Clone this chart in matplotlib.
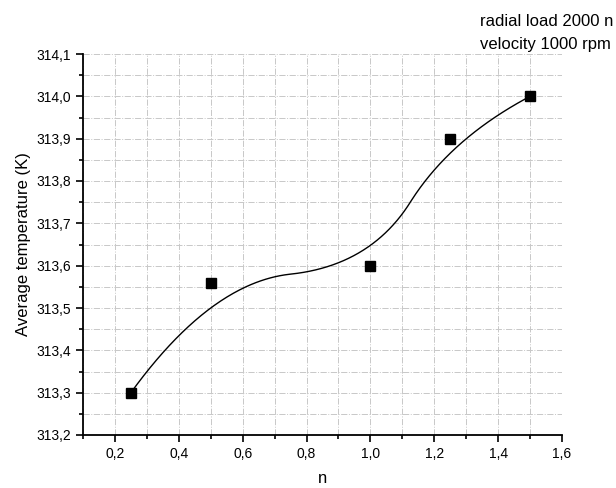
import numpy as np
import matplotlib.pyplot as plt
from matplotlib.ticker import MultipleLocator, FuncFormatter

plt.rcParams['font.family'] = ['Liberation Sans', 'DejaVu Sans']

n = [0.25, 0.5, 1.0, 1.25, 1.5]
temp = [313.30, 313.56, 313.60, 313.90, 314.00]


def bspline(px, py, k=2, num=300):
	# clamped B-spline with the data points as control points
	px = np.asarray(px); py = np.asarray(py)
	m = len(px)
	inner = m - k
	knots = np.concatenate([[0]*k, np.arange(inner + 1), [inner]*k]).astype(float)
	us = np.linspace(0, inner, num)
	xs, ys = [], []
	for u in us:
		# de Boor
		s = np.searchsorted(knots, u, side='right') - 1
		s = min(max(s, k), m - 1)
		dx = [px[j + s - k] for j in range(k + 1)]
		dy = [py[j + s - k] for j in range(k + 1)]
		for r in range(1, k + 1):
			for j in range(k, r - 1, -1):
				den = knots[j + 1 + s - r] - knots[j + s - k]
				a = 0 if den == 0 else (u - knots[j + s - k]) / den
				dx[j] = (1 - a) * dx[j - 1] + a * dx[j]
				dy[j] = (1 - a) * dy[j - 1] + a * dy[j]
		xs.append(dx[k]); ys.append(dy[k])
	return xs, ys


fig = plt.figure(figsize=(6.16, 4.88), dpi=100)
ax = fig.add_axes([83/616, 1 - 435/488, (562 - 83)/616, (435 - 54)/488])

cx, cy = bspline(n, temp)
ax.plot(cx, cy, color='black', lw=1.0)
ax.plot(n, temp, 's', color='black', ms=6.5)

ax.set_xlim(0.1, 1.6)
ax.set_ylim(313.2, 314.1)
ax.xaxis.set_major_locator(MultipleLocator(0.2))
ax.xaxis.set_minor_locator(MultipleLocator(0.1))
ax.yaxis.set_major_locator(MultipleLocator(0.1))
ax.yaxis.set_minor_locator(MultipleLocator(0.05))
ax.xaxis.set_major_formatter(FuncFormatter(lambda v, p: ('%.1f' % v).replace('.', ',')))
ax.yaxis.set_major_formatter(FuncFormatter(lambda v, p: ('%.1f' % v).replace('.', ',')))

ax.grid(which='both', color='#c8c8c8', linestyle='-.', lw=0.7)
ax.set_axisbelow(True)
for s in ['top', 'right']:
	ax.spines[s].set_visible(False)
for s in ['left', 'bottom']:
	ax.spines[s].set_linewidth(1.3)
ax.tick_params(which='major', direction='out', length=5, width=1.2, labelsize=10)
ax.tick_params(which='minor', direction='out', length=3, width=1.2)

ax.set_xlabel('n', fontsize=12, labelpad=7)
ax.set_ylabel('Average temperature (K)', fontsize=12, labelpad=4)

fig.text(480/616, 1 - 22/488, 'radial load 2000 n', fontsize=12, va='center')
fig.text(480/616, 1 - 45/488, 'velocity 1000 rpm', fontsize=12, va='center')

fig.savefig('out.png', dpi=100)
